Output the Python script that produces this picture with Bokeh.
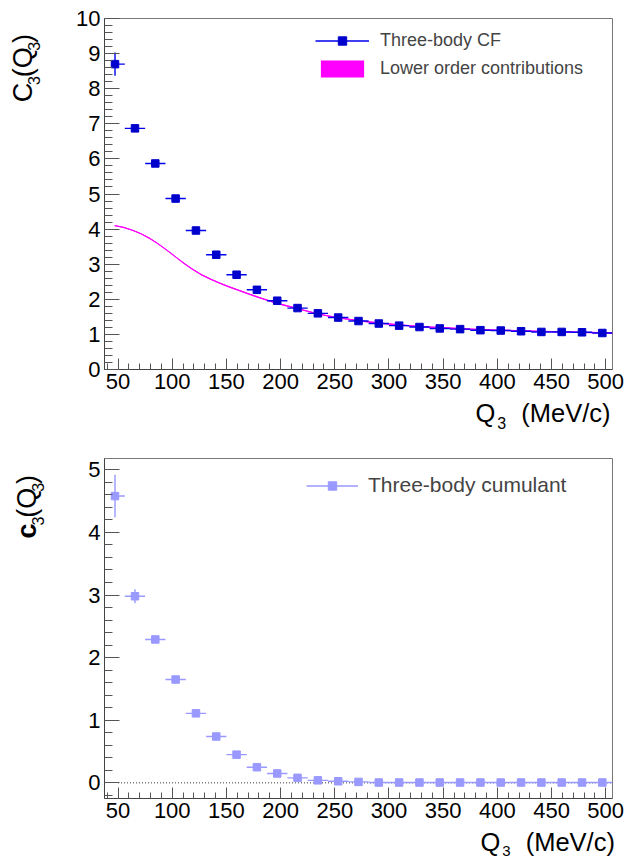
import numpy as np
from bokeh.plotting import figure
from bokeh.layouts import column, row
from bokeh.models import Range1d, FixedTicker, Legend, LegendItem, ColumnDataSource
from bokeh.core.properties import value
from bokeh.embed import file_html
from bokeh.resources import INLINE

# ---------------- data ----------------
q3_center = [47.2, 65.625, 84.375, 103.125, 121.875, 140.625, 159.375, 178.125, 196.875,
             215.625, 234.375, 253.125, 271.875, 290.625, 309.375, 328.125, 346.875,
             365.625, 384.375, 403.125, 421.875, 440.625, 459.375, 478.125, 496.875]
q3_edges = [43.5, 56.25, 75.0, 93.75, 112.5, 131.25, 150.0, 168.75, 187.5, 206.25, 225.0,
            243.75, 262.5, 281.25, 300.0, 318.75, 337.5, 356.25, 375.0, 393.75, 412.5,
            431.25, 450.0, 468.75, 487.5, 506.25]

C3_vals = [8.70, 6.87, 5.87, 4.87, 3.96, 3.27, 2.70, 2.27, 1.96, 1.75, 1.60, 1.48, 1.38,
           1.31, 1.25, 1.21, 1.17, 1.15, 1.12, 1.11, 1.09, 1.07, 1.07, 1.06, 1.04]
C3_errs = [0.33, 0.06, 0.04, 0.03, 0.03, 0.03, 0.03, 0.02, 0.02, 0.02, 0.02, 0.02, 0.02,
           0.02, 0.02, 0.02, 0.02, 0.02, 0.02, 0.02, 0.02, 0.02, 0.02, 0.02, 0.02]

lower_q = [47, 55, 63, 71, 79, 87, 95, 103, 111, 119, 127, 135, 143, 151, 160, 170, 180,
           190, 200, 210, 220, 230, 240, 250, 265, 280, 295, 310, 330, 350, 375, 400, 425,
           450, 475, 506]
lower_vals = [4.10, 4.05, 3.97, 3.87, 3.74, 3.58, 3.40, 3.21, 3.02, 2.85, 2.70, 2.58, 2.47,
              2.37, 2.27, 2.16, 2.05, 1.95, 1.86, 1.78, 1.70, 1.62, 1.55, 1.49, 1.42, 1.36,
              1.31, 1.27, 1.22, 1.19, 1.15, 1.12, 1.10, 1.08, 1.06, 1.04]
lower_halfwidth = 0.02

c3_vals = [4.58, 2.98, 2.29, 1.65, 1.11, 0.74, 0.45, 0.25, 0.15, 0.08, 0.04, 0.025, 0.015,
           0.005, 0.005, 0.005, 0.005, 0.005, 0.005, 0.005, 0.005, 0.005, 0.005, 0.005, 0.005]
c3_errs = [0.34, 0.11, 0.04, 0.03, 0.02, 0.02, 0.02, 0.02, 0.02, 0.02, 0.02, 0.02, 0.02,
           0.02, 0.02, 0.02, 0.02, 0.02, 0.02, 0.02, 0.02, 0.02, 0.02, 0.02, 0.02]
zero_line_q = [50.0, 506.25]

x_major = [50, 100, 150, 200, 250, 300, 350, 400, 450, 500]
x_minor = list(range(40, 510, 10))
y1_major = list(range(0, 11))
y1_minor = [round(0.2 * i, 1) for i in range(0, 51)]
y2_major = [0, 1, 2, 3, 4, 5]
y2_minor = [round(-0.2 + 0.2 * i, 1) for i in range(0, 28)]

X_RANGE = (37.5, 506.25)
Y1_RANGE = (0.0, 10.0)
Y2_RANGE = (-0.25, 5.18)

FONT = "Liberation Sans"
W = {'C': 0.722, 'Q': 0.778, '3': 0.556, '(': 0.333, ')': 0.333, ' ': 0.278, 'M': 0.833,
     'e': 0.556, 'V': 0.667, '/': 0.278, 'c': 0.5}
WB = {'c': 0.556}
MID = 0.3465   # distance of the text "middle" above the alphabetic baseline, in em


def tw(s, fs, bold=False):
    return sum((WB.get(ch, W[ch]) if bold else W[ch]) for ch in s) * fs


# ---------------- layout geometry (canvas pixels) ----------------
YL_W = 54               # width of the strip holding the vertical titles
MAIN_W = 628 - YL_W
BL, BR = 50, 16         # borders of main figures -> frame from x=104 to x=612
T1_TOP, T1_FT, T1_FB, T1_BOT = 0, 18, 369, 398
X1_TOP, X1_BOT = 398, 436
T2_TOP, T2_FT, T2_FB, T2_BOT = 436, 458, 798, 827
X2_TOP, X2_BOT = 827, 859


def make_fig(top, ft, fb, bot, yr, ymaj, ymin):
    p = figure(width=MAIN_W, height=bot - top, output_backend="svg", toolbar_location=None,
               x_range=Range1d(*X_RANGE), y_range=Range1d(*yr),
               min_border_left=BL, min_border_right=BR,
               min_border_top=ft - top, min_border_bottom=bot - fb)
    p.xgrid.visible = False
    p.ygrid.visible = False
    p.background_fill_color = "white"
    p.border_fill_color = "white"
    p.outline_line_color = "#777777"
    p.outline_line_width = 1
    p.xaxis.ticker = FixedTicker(ticks=x_major, minor_ticks=x_minor)
    p.yaxis.ticker = FixedTicker(ticks=ymaj, minor_ticks=ymin)
    for ax in (p.xaxis[0], p.yaxis[0]):
        ax.axis_line_color = "#444444"
        ax.axis_line_width = 1
        ax.major_tick_out = 0
        ax.minor_tick_out = 0
        ax.major_tick_line_color = "#555555"
        ax.minor_tick_line_color = "#555555"
        ax.major_label_text_font = FONT
        ax.major_label_text_font_size = "22px"
        ax.major_label_text_color = "black"
        ax.major_label_standoff = 4
    p.xaxis.major_tick_in = 11
    p.xaxis.minor_tick_in = 6
    p.yaxis.major_tick_in = 15
    p.yaxis.minor_tick_in = 8
    return p


def text_fig(left, top, w, h):
    f = figure(width=w, height=h, output_backend="svg", toolbar_location=None,
               x_range=Range1d(0, w), y_range=Range1d(0, h),
               x_axis_type=None, y_axis_type=None,
               min_border_left=0, min_border_right=0, min_border_top=0, min_border_bottom=0)
    f.outline_line_color = None
    f.background_fill_color = "white"
    f.border_fill_color = "white"
    f._origin = (left, top, h)
    return f


def put(f, cx, cy, text, fs, angle=0.0, bold=False):
    left, top, h = f._origin
    f.text(x=[cx - left], y=[h - (cy - top)], text=[text], angle=angle,
           text_font=value(FONT), text_font_size=value(f"{fs}px"),
           text_font_style="bold" if bold else "normal",
           text_baseline="middle", text_align="left", text_color="black")


def htitle(f, x0, base, segs):
    x = x0
    for text, fs, shift, gap, bold in segs:
        x += gap
        put(f, x, base + shift - MID * fs, text, fs, 0.0, bold)
        x += tw(text, fs, bold)


def vtitle(f, y0, base, segs):
    y = y0
    for text, fs, shift, gap, bold in segs:
        y -= gap
        put(f, base + shift - MID * fs, y, text, fs, np.pi / 2, bold)
        y -= tw(text, fs, bold)


# ---------------- top panel ----------------
p1 = make_fig(T1_TOP, T1_FT, T1_FB, T1_BOT, Y1_RANGE, y1_major, y1_minor)

lo_src = ColumnDataSource(dict(x=lower_q,
                               y1=[v - lower_halfwidth for v in lower_vals],
                               y2=[v + lower_halfwidth for v in lower_vals]))
band = p1.varea(x="x", y1="y1", y2="y2", source=lo_src, fill_color="#ff00ff", fill_alpha=1.0)
p1.line(x=lower_q, y=lower_vals, line_color="#ff00ff", line_width=1)

src1 = ColumnDataSource(dict(x=q3_center, y=C3_vals,
                             xlo=q3_edges[:-1], xhi=q3_edges[1:],
                             ylo=[v - e for v, e in zip(C3_vals, C3_errs)],
                             yhi=[v + e for v, e in zip(C3_vals, C3_errs)]))
xe1 = p1.segment(x0="xlo", y0="y", x1="xhi", y1="y", source=src1, line_color="#0000ee", line_width=1.4)
p1.segment(x0="x", y0="ylo", x1="x", y1="yhi", source=src1, line_color="#0000ee", line_width=1.4)
mk1 = p1.scatter(x="x", y="y", source=src1, marker="square", size=7.5, fill_color="#0000cc",
                 line_color="#0000cc")

leg1 = Legend(items=[LegendItem(label="Three-body CF", renderers=[xe1, mk1]),
                     LegendItem(label="Lower order contributions", renderers=[band])],
              location=(211, 290), glyph_width=54, glyph_height=21, spacing=7,
              label_standoff=11, padding=0, margin=0, border_line_color=None,
              background_fill_alpha=0, label_text_font=FONT, label_text_font_size="18px",
              label_height=21)
p1.add_layout(leg1)

yl1 = text_fig(0, T1_TOP, YL_W, T1_BOT - T1_TOP)
vtitle(yl1, 95, 32, [("C", 27, 0, 0, False), ("3", 16, 7, 0, False),
                     ("(Q", 27, 0, 0, False), ("3", 16, 7, 0, False),
                     (")", 27, 0, 0, False)])
xl1 = text_fig(0, X1_TOP, 628, X1_BOT - X1_TOP)
htitle(xl1, 475, 421.5, [("Q", 25.5, 0, 0, False), ("3", 16, 7, 2, False),
                         ("(MeV/c)", 25.5, 0, 15, False)])

# ---------------- bottom panel ----------------
p2 = make_fig(T2_TOP, T2_FT, T2_FB, T2_BOT, Y2_RANGE, y2_major, y2_minor)

p2.line(x=zero_line_q, y=[0, 0], line_color="#333333", line_width=1, line_dash="1 2")

src2 = ColumnDataSource(dict(x=q3_center, y=c3_vals,
                             xlo=q3_edges[:-1], xhi=q3_edges[1:],
                             ylo=[v - e for v, e in zip(c3_vals, c3_errs)],
                             yhi=[v + e for v, e in zip(c3_vals, c3_errs)]))
xe2 = p2.segment(x0="xlo", y0="y", x1="xhi", y1="y", source=src2, line_color="#9999ff", line_width=1.4)
p2.segment(x0="x", y0="ylo", x1="x", y1="yhi", source=src2, line_color="#9999ff", line_width=1.4)
mk2 = p2.scatter(x="x", y="y", source=src2, marker="square", size=7.5, fill_color="#9999ff",
                 line_color="#9999ff")

leg2 = Legend(items=[LegendItem(label="Three-body cumulant", renderers=[xe2, mk2])],
              location=(202, 301), glyph_width=52, glyph_height=21, spacing=0,
              label_standoff=10, padding=0, margin=0, border_line_color=None,
              background_fill_alpha=0, label_text_font=FONT, label_text_font_size="21px",
              label_height=21)
p2.add_layout(leg2)

yl2 = text_fig(0, T2_TOP, YL_W, T2_BOT - T2_TOP)
vtitle(yl2, 528, 36, [("c", 27, 0, 0, True), ("3", 16, 7, 0, False),
                      ("(Q", 27, 0, 0, False), ("3", 16, 7, 0, False),
                      (")", 27, 0, 0, False)])
xl2 = text_fig(0, X2_TOP, 628, X2_BOT - X2_TOP)
htitle(xl2, 480, 850.5, [("Q", 25.5, 0, 0, False), ("3", 15, 5, 2, False),
                         ("(MeV/c)", 25.5, 0, 15, False)])

layout = column(row(yl1, p1, spacing=0), xl1, row(yl2, p2, spacing=0), xl2, spacing=0)
open("out.html", "w").write(file_html(layout, INLINE))
